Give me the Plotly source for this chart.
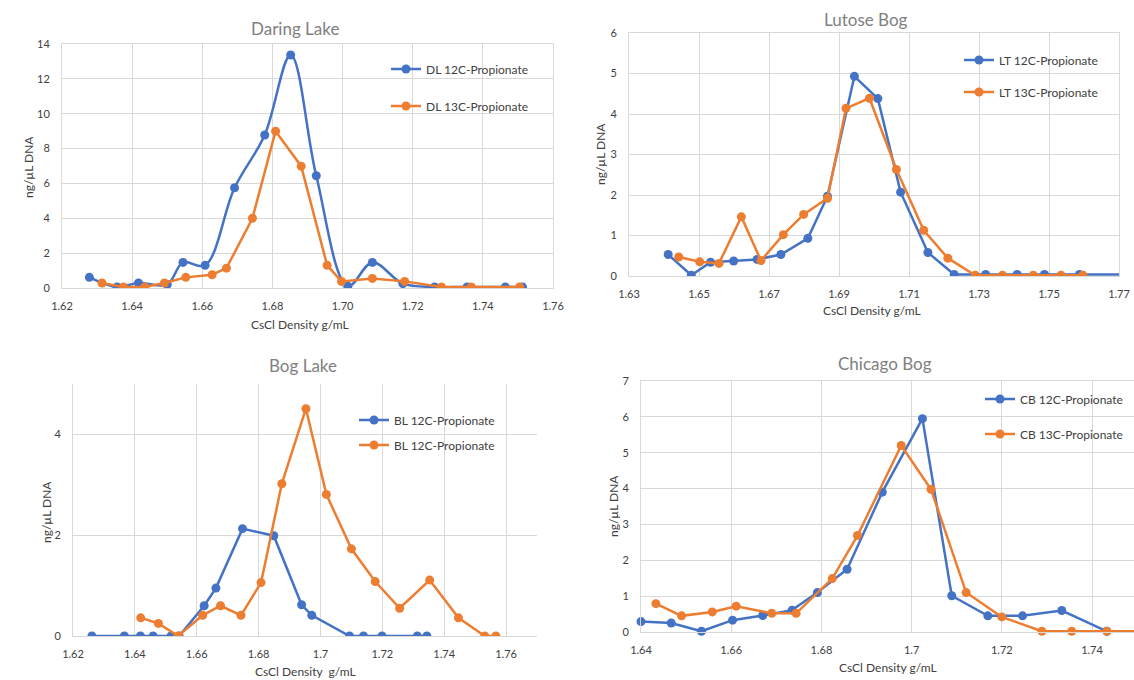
import plotly.graph_objects as go

# ---------------- data ----------------
# Daring Lake
DL12_X = [1.6278, 1.6357, 1.6418, 1.6500, 1.6545, 1.6608, 1.6692, 1.6778, 1.6852, 1.6925, 1.7015, 1.7085, 1.7172, 1.7262, 1.7355, 1.7464, 1.7513]
DL12_Y = [0.61, 0.06, 0.29, 0.20, 1.47, 1.30, 5.75, 8.78, 13.37, 6.44, 0.10, 1.47, 0.25, 0.06, 0.06, 0.06, 0.06]
DL13_X = [1.6314, 1.6375, 1.6436, 1.6492, 1.6553, 1.6628, 1.6669, 1.6743, 1.6809, 1.6882, 1.6956, 1.6997, 1.7085, 1.7177, 1.7282, 1.7367, 1.7505]
DL13_Y = [0.29, 0.06, 0.06, 0.29, 0.61, 0.76, 1.14, 4.00, 9.00, 6.99, 1.30, 0.38, 0.55, 0.38, 0.06, 0.06, 0.06]

# Lutose Bog
LT12_X = [1.6412, 1.6478, 1.6533, 1.6599, 1.6666, 1.6734, 1.6811, 1.6867, 1.6944, 1.7011, 1.7076, 1.7154, 1.7229, 1.7319, 1.7409, 1.7487, 1.7587, 1.7800]
LT12_Y = [0.53, 0.02, 0.34, 0.37, 0.41, 0.53, 0.93, 1.97, 4.93, 4.38, 2.07, 0.58, 0.04, 0.04, 0.04, 0.04, 0.04, 0.04]
LT13_X = [1.6442, 1.6502, 1.6557, 1.6621, 1.6677, 1.6741, 1.6799, 1.6867, 1.6920, 1.6987, 1.7064, 1.7142, 1.7211, 1.7289, 1.7367, 1.7455, 1.7534, 1.7597]
LT13_Y = [0.47, 0.35, 0.31, 1.46, 0.38, 1.02, 1.52, 1.92, 4.14, 4.39, 2.63, 1.13, 0.44, 0.02, 0.02, 0.02, 0.02, 0.02]

# Bog Lake
BL12_X = [1.6261, 1.6366, 1.6418, 1.6459, 1.6517, 1.6543, 1.6624, 1.6662, 1.6748, 1.6849, 1.6939, 1.6972, 1.7094, 1.7139, 1.7199, 1.7313, 1.7344]
BL12_Y = [0.0, 0.0, 0.0, 0.0, 0.0, 0.0, 0.60, 0.95, 2.13, 1.99, 0.62, 0.41, 0.0, 0.0, 0.0, 0.0, 0.0]
BL13_X = [1.6419, 1.6476, 1.6540, 1.6619, 1.6677, 1.6743, 1.6808, 1.6875, 1.6953, 1.7019, 1.7100, 1.7177, 1.7256, 1.7353, 1.7446, 1.7531, 1.7567]
BL13_Y = [0.36, 0.25, 0.0, 0.41, 0.60, 0.41, 1.06, 3.02, 4.51, 2.81, 1.73, 1.08, 0.55, 1.11, 0.36, 0.0, 0.0]

# Chicago Bog
CB12_X = [1.6400, 1.6467, 1.6534, 1.6603, 1.6670, 1.6735, 1.6791, 1.6857, 1.6935, 1.7024, 1.7089, 1.7169, 1.7246, 1.7333, 1.7433, 1.7600]
CB12_Y = [0.29, 0.25, 0.02, 0.33, 0.46, 0.61, 1.10, 1.75, 3.90, 5.95, 1.01, 0.45, 0.45, 0.60, 0.02, 0.02]
CB13_X = [1.6433, 1.6490, 1.6558, 1.6611, 1.6690, 1.6744, 1.6824, 1.6880, 1.6977, 1.7043, 1.7121, 1.7200, 1.7289, 1.7355, 1.7433, 1.7600]
CB13_Y = [0.79, 0.45, 0.56, 0.72, 0.52, 0.52, 1.49, 2.69, 5.20, 3.98, 1.10, 0.42, 0.02, 0.02, 0.02, 0.02]

# tick labels
DL_XTICKS = ["1.62", "1.64", "1.66", "1.68", "1.70", "1.72", "1.74", "1.76"]
LT_XTICKS = ["1.63", "1.65", "1.67", "1.69", "1.71", "1.73", "1.75", "1.77"]
BL_XTICKS = ["1.62", "1.64", "1.66", "1.68", "1.7", "1.72", "1.74", "1.76"]
CB_XTICKS = ["1.64", "1.66", "1.68", "1.7", "1.72", "1.74"]
DL_YTICKS = [0, 2, 4, 6, 8, 10, 12, 14]
LT_YTICKS = [0, 1, 2, 3, 4, 5, 6]
BL_YTICKS = [0, 2, 4]
CB_YTICKS = [0, 1, 2, 3, 4, 5, 6, 7]

TITLES = ["Daring Lake", "Lutose Bog", "Bog Lake", "Chicago Bog"]
XTITLES = ["CsCl Density g/mL", "CsCl Density g/mL", "CsCl Density  g/mL", "CsCl Density g/mL"]
YTITLE = "ng/µL DNA"
NAMES = [("DL 12C-Propionate", "DL 13C-Propionate"),
         ("LT 12C-Propionate", "LT 13C-Propionate"),
         ("BL 12C-Propionate", "BL 12C-Propionate"),
         ("CB 12C-Propionate", "CB 13C-Propionate")]

# ---------------- layout ----------------
W, H = 1134, 680
OFF = 0  # body margin removed by post_script
BLUE, ORANGE = "#4472C4", "#ED7D31"
GRID = "#d9d9d9"
FONT = "Lato"

# plot boxes in page pixels: left, right, bottom, top
BOX = [(62, 553, 288, 44), (629, 1119, 276, 33), (73, 537, 636, 384), (641, 1134, 632, 381)]
XR = [[1.62, 1.76], [1.63, 1.77], [1.62, 1.77], [1.64, 1.64 + (1134 - 641) / 4510.0]]
YR = [[0, 14], [0, 6], [0, 5], [0, 7]]
XT = [DL_XTICKS, LT_XTICKS, BL_XTICKS, CB_XTICKS]
YT = [DL_YTICKS, LT_YTICKS, BL_YTICKS, CB_YTICKS]
MIRX = [True, True, False, True]
MIRY = [True, True, False, False]
SERIES = [((DL12_X, DL12_Y), (DL13_X, DL13_Y)),
          ((LT12_X, LT12_Y), (LT13_X, LT13_Y)),
          ((BL12_X, BL12_Y), (BL13_X, BL13_Y)),
          ((CB12_X, CB12_Y), (CB13_X, CB13_Y))]
SHAPE = [("spline", "linear"), ("linear", "linear"), ("linear", "linear"), ("linear", "linear")]
# legend item: text start x, y centres of the two items (page pixels)
LEG = [(426, 69, 106), (999, 60, 92), (394, 420, 445), (1020, 399, 434)]
# title centre, x-title centre, y-title centre (page pixels)
TPOS = [(295, 29), (866, 19), (303, 365), (885, 363)]
XTPOS = [(300, 324), (872, 311), (305, 671), (888, 667)]
YTPOS = [(28, 167), (601, 154), (46, 512), (613, 506)]

fig = go.Figure()
layout = dict(width=W, height=H, margin=dict(l=0, r=0, t=0, b=0, autoexpand=False),
              paper_bgcolor="white", plot_bgcolor="white", showlegend=True,
              font=dict(family=FONT, color="#404040"))
annotations = []

def px(x):
    return min(1.0, max(0.0, (x - OFF) / W))

def py(y):
    return min(1.0, max(0.0, 1 - (y - OFF) / H))

li = 0
for i in range(4):
    sfx = "" if i == 0 else str(i + 1)
    l, r, b, t = BOX[i]
    xt = XT[i]
    layout["xaxis" + sfx] = dict(
        domain=[px(l), px(r)], range=XR[i], anchor="y" + sfx,
        tickvals=[float(v) for v in xt], ticktext=xt, automargin=False,
        showgrid=True, gridcolor=GRID, gridwidth=1, zeroline=False,
        showline=True, linecolor=GRID, linewidth=1, mirror=MIRX[i],
        ticks="", ticklabelstandoff=8,
        tickfont=dict(size=11, color="#404040", family=FONT))
    layout["yaxis" + sfx] = dict(
        domain=[py(b), py(t)], range=YR[i], anchor="x" + sfx,
        tickvals=YT[i], ticktext=[str(v) for v in YT[i]], automargin=False,
        showgrid=True, gridcolor=GRID, gridwidth=1, zeroline=False,
        showline=True, linecolor=GRID, linewidth=1, mirror=MIRY[i],
        ticks="", ticklabelstandoff=9,
        tickfont=dict(size=11, color="#404040", family=FONT))
    for k, (sx, sy) in enumerate(SERIES[i]):
        color = BLUE if k == 0 else ORANGE
        lname = "legend" if li == 0 else "legend" + str(li + 1)
        fig.add_trace(go.Scatter(
            x=sx, y=sy, name=NAMES[i][k], mode="lines+markers",
            xaxis="x" + sfx, yaxis="y" + sfx,
            line=dict(color=color, width=2.5, shape=SHAPE[i][k]),
            marker=dict(color=color, size=9),
            cliponaxis=(i != 3), legend=lname))
        ty = LEG[i][1 + k]
        layout[lname] = dict(x=px(LEG[i][0] - 40), y=py(ty), xanchor="left", yanchor="middle",
                             bgcolor="rgba(0,0,0,0)", borderwidth=0,
                             font=dict(size=12, color="#404040", family=FONT))
        li += 1
    annotations.append(dict(x=px(TPOS[i][0]), y=py(TPOS[i][1]), xref="paper", yref="paper",
                            text=TITLES[i], showarrow=False, xanchor="center", yanchor="middle",
                            font=dict(size=17, color="#808080", family=FONT)))
    annotations.append(dict(x=px(XTPOS[i][0]), y=py(XTPOS[i][1]), xref="paper", yref="paper",
                            text=XTITLES[i], showarrow=False, xanchor="center", yanchor="middle",
                            font=dict(size=12, color="#404040", family=FONT)))
    annotations.append(dict(x=px(YTPOS[i][0]), y=py(YTPOS[i][1]), xref="paper", yref="paper",
                            text=YTITLE, showarrow=False, xanchor="center", yanchor="middle",
                            textangle=-90, font=dict(size=12, color="#404040", family=FONT)))

layout["annotations"] = annotations
fig.update_layout(**layout)
fig.write_html("out.html", config={"displayModeBar": False},
               post_script="document.body.style.margin='0px';document.body.style.overflow='hidden';")
